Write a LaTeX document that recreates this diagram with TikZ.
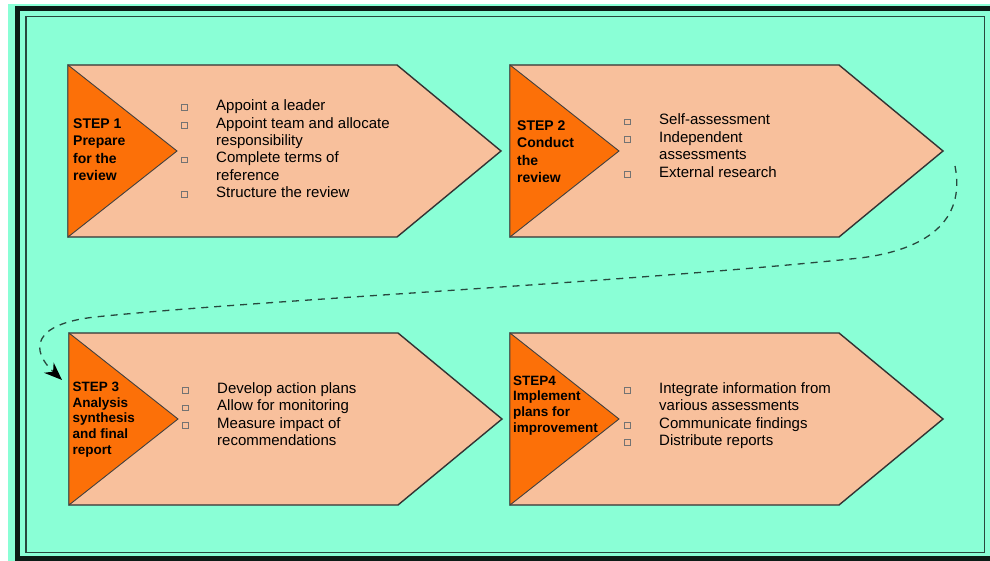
\documentclass[tikz,border=0pt]{standalone}
\usepackage{fontspec}
\setmainfont{Liberation Sans}
\usetikzlibrary{arrows.meta}
\definecolor{bgteal}{RGB}{138,255,214}
\definecolor{peach}{RGB}{248,192,156}
\definecolor{stepor}{RGB}{252,112,8}
\definecolor{framedark}{RGB}{12,28,22}
\definecolor{framethin}{RGB}{40,72,62}
\newcommand\sqb{\leavevmode{\color{black!55}\setlength\fboxsep{0pt}\setlength\fboxrule{0.7pt}\raisebox{0.5pt}{\fbox{\phantom{\rule{5pt}{5pt}}}}}}
\tikzset{
  arrowshape/.style={fill=peach,draw=black!80,line width=1.4pt,line join=miter},
  steptri/.style={fill=stepor,draw=black!75,line width=0.9pt},
  listtext/.style={anchor=base west,inner sep=0pt,font=\fontsize{15}{17.4}\selectfont},
  steptext/.style={anchor=base west,inner sep=0pt,font=\fontsize{14}{17.5}\selectfont\bfseries},
  steptextsm/.style={anchor=base west,inner sep=0pt,font=\fontsize{13.5}{15.6}\selectfont\bfseries},
  flowlink/.style={draw=framethin,line width=1.3pt,dash pattern=on 7pt off 6pt,-{Stealth[length=18pt,width=14pt,color=black,fill=black]}}
}
\begin{document}
\begin{tikzpicture}[x=1pt,y=-1pt]
\useasboundingbox (0,0) rectangle (990,561);
\fill[white] (0,0) rectangle (990,561);
\fill[bgteal] (8,4) rectangle (990,561);
% frame
\draw[framedark,line width=5pt] (990,8.5) -- (17.5,8.5) -- (17.5,561);
\draw[framedark,line width=5pt] (17.5,558.5) -- (990,558.5);
\draw[framethin,line width=1.4pt] (26,16.5) rectangle (984.5,552.5);
% arrow shapes
\foreach \bx/\by/\n in {68/65/1, 510/65/2, 69/333/3, 510/333/4}{
  \draw[arrowshape] (\bx,\by) -- (\bx+329,\by) -- (\bx+433,\by+86) -- (\bx+329,\by+172) -- (\bx,\by+172) -- cycle;
  \draw[steptri] (\bx,\by) -- (\bx+109,\by+86) -- (\bx,\by+172) -- cycle;
}
% step labels
\node[steptext] (s1) at (73,128.3) {\begin{tabular}[t]{@{}l@{}}STEP 1\\Prepare\\for the\\review\end{tabular}};
\node[steptext] (s2) at (517,130.5) {\begin{tabular}[t]{@{}l@{}}STEP 2\\Conduct\\the\\review\end{tabular}};
\node[steptextsm] (s3) at (72.5,391.7) {\begin{tabular}[t]{@{}l@{}}STEP 3\\Analysis\\synthesis\\and final\\report\end{tabular}};
\node[steptextsm] (s4) at (513,385.3) {\begin{tabular}[t]{@{}l@{}}STEP4\\Implement\\plans for\\improvement\end{tabular}};
% lists
\node[listtext] (l1) at (181,110.7) {\begin{tabular}[t]{@{}p{35pt}@{}l@{}}
\sqb & Appoint a leader\\
\sqb & Appoint team and allocate\\
 & responsibility\\
\sqb & Complete terms of\\
 & reference\\
\sqb & Structure the review\end{tabular}};
\node[listtext] (l2) at (624,125) {\begin{tabular}[t]{@{}p{35pt}@{}l@{}}
\sqb & Self-assessment\\
\sqb & Independent\\
 & assessments\\
\sqb & External research\end{tabular}};
\node[listtext] (l3) at (182,393.3) {\begin{tabular}[t]{@{}p{35pt}@{}l@{}}
\sqb & Develop action plans\\
\sqb & Allow for monitoring\\
\sqb & Measure impact of\\
 & recommendations\end{tabular}};
\node[listtext] (l4) at (624,393.3) {\begin{tabular}[t]{@{}p{35pt}@{}l@{}}
\sqb & Integrate information from\\
 & various assessments\\
\sqb & Communicate findings\\
\sqb & Distribute reports\end{tabular}};
% connector
\coordinate (from2) at (955,166);
\coordinate (to3) at (62,380);
\draw[flowlink] (from2) .. controls (966,222) and (925,250) .. (860,258)
  .. controls (620,283) and (260,300) .. (95,317)
  .. controls (32,324) and (30,350) .. (to3);
\end{tikzpicture}
\end{document}
